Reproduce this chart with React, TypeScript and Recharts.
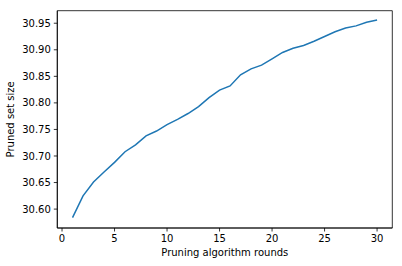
import React from "react";
import { LineChart, Line, XAxis, YAxis, ReferenceArea, Label } from "recharts";

const rounds = [1,2,3,4,5,6,7,8,9,10,11,12,13,14,15,16,17,18,19,20,21,22,23,24,25,26,27,28,29,30];
const prunedSize = [30.584,30.625,30.651,30.670,30.688,30.708,30.721,30.738,30.747,30.759,30.769,30.780,30.793,30.810,30.824,30.832,30.853,30.864,30.871,30.883,30.895,30.903,30.908,30.916,30.925,30.934,30.941,30.945,30.952,30.956];
const xTicks = [0,5,10,15,20,25,30];
const yTicks = [30.60,30.65,30.70,30.75,30.80,30.85,30.90,30.95];

const data = rounds.map((r, i) => ({ round: r, size: prunedSize[i] }));

const X_DOMAIN: [number, number] = [-0.45, 31.45];
const Y_DOMAIN: [number, number] = [30.5644, 30.9736];

const font = { fontFamily: "DejaVu Sans", fontSize: 10, fill: "#000" };

export default function App() {
  return (
    <div style={{ position: "absolute", left: 0, top: 0 }}>
      <LineChart width={402} height={266} data={data} margin={{ top: 10.7, right: 9.7, bottom: 0, left: 0 }}>
        <XAxis
          dataKey="round"
          type="number"
          domain={X_DOMAIN}
          ticks={xTicks}
          allowDataOverflow
          height={38}
          tickSize={3.5}
          tickMargin={3.5}
          stroke="#000"
          strokeWidth={0.8}
          tick={font}
        >
          <Label value="Pruning algorithm rounds" position="insideBottom" offset={10.4} style={font} />
        </XAxis>
        <YAxis
          type="number"
          domain={Y_DOMAIN}
          ticks={yTicks}
          allowDataOverflow
          width={57.3}
          tickSize={3.5}
          tickMargin={3}
          stroke="#000"
          strokeWidth={0.8}
          tick={font}
          tickFormatter={(v: number) => v.toFixed(2)}
        >
          <Label
            content={(props: any) => {
              const vb = props.viewBox || {};
              const cx = 14;
              const cy = (vb.y ?? 0) + (vb.height ?? 0) / 2;
              return (
                <text x={cx} y={cy} transform={`rotate(-90, ${cx}, ${cy})`} textAnchor="middle" style={font}>
                  Pruned set size
                </text>
              );
            }}
          />
        </YAxis>
        <ReferenceArea
          x1={X_DOMAIN[0]}
          x2={X_DOMAIN[1]}
          y1={Y_DOMAIN[0]}
          y2={Y_DOMAIN[1]}
          fill="none"
          fillOpacity={0}
          stroke="#000"
          strokeWidth={0.8}
          strokeOpacity={1}
          ifOverflow="visible"
        />
        <Line
          dataKey="size"
          type="linear"
          stroke="#1f77b4"
          strokeWidth={1.5}
          dot={false}
          isAnimationActive={false}
        />
      </LineChart>
    </div>
  );
}
